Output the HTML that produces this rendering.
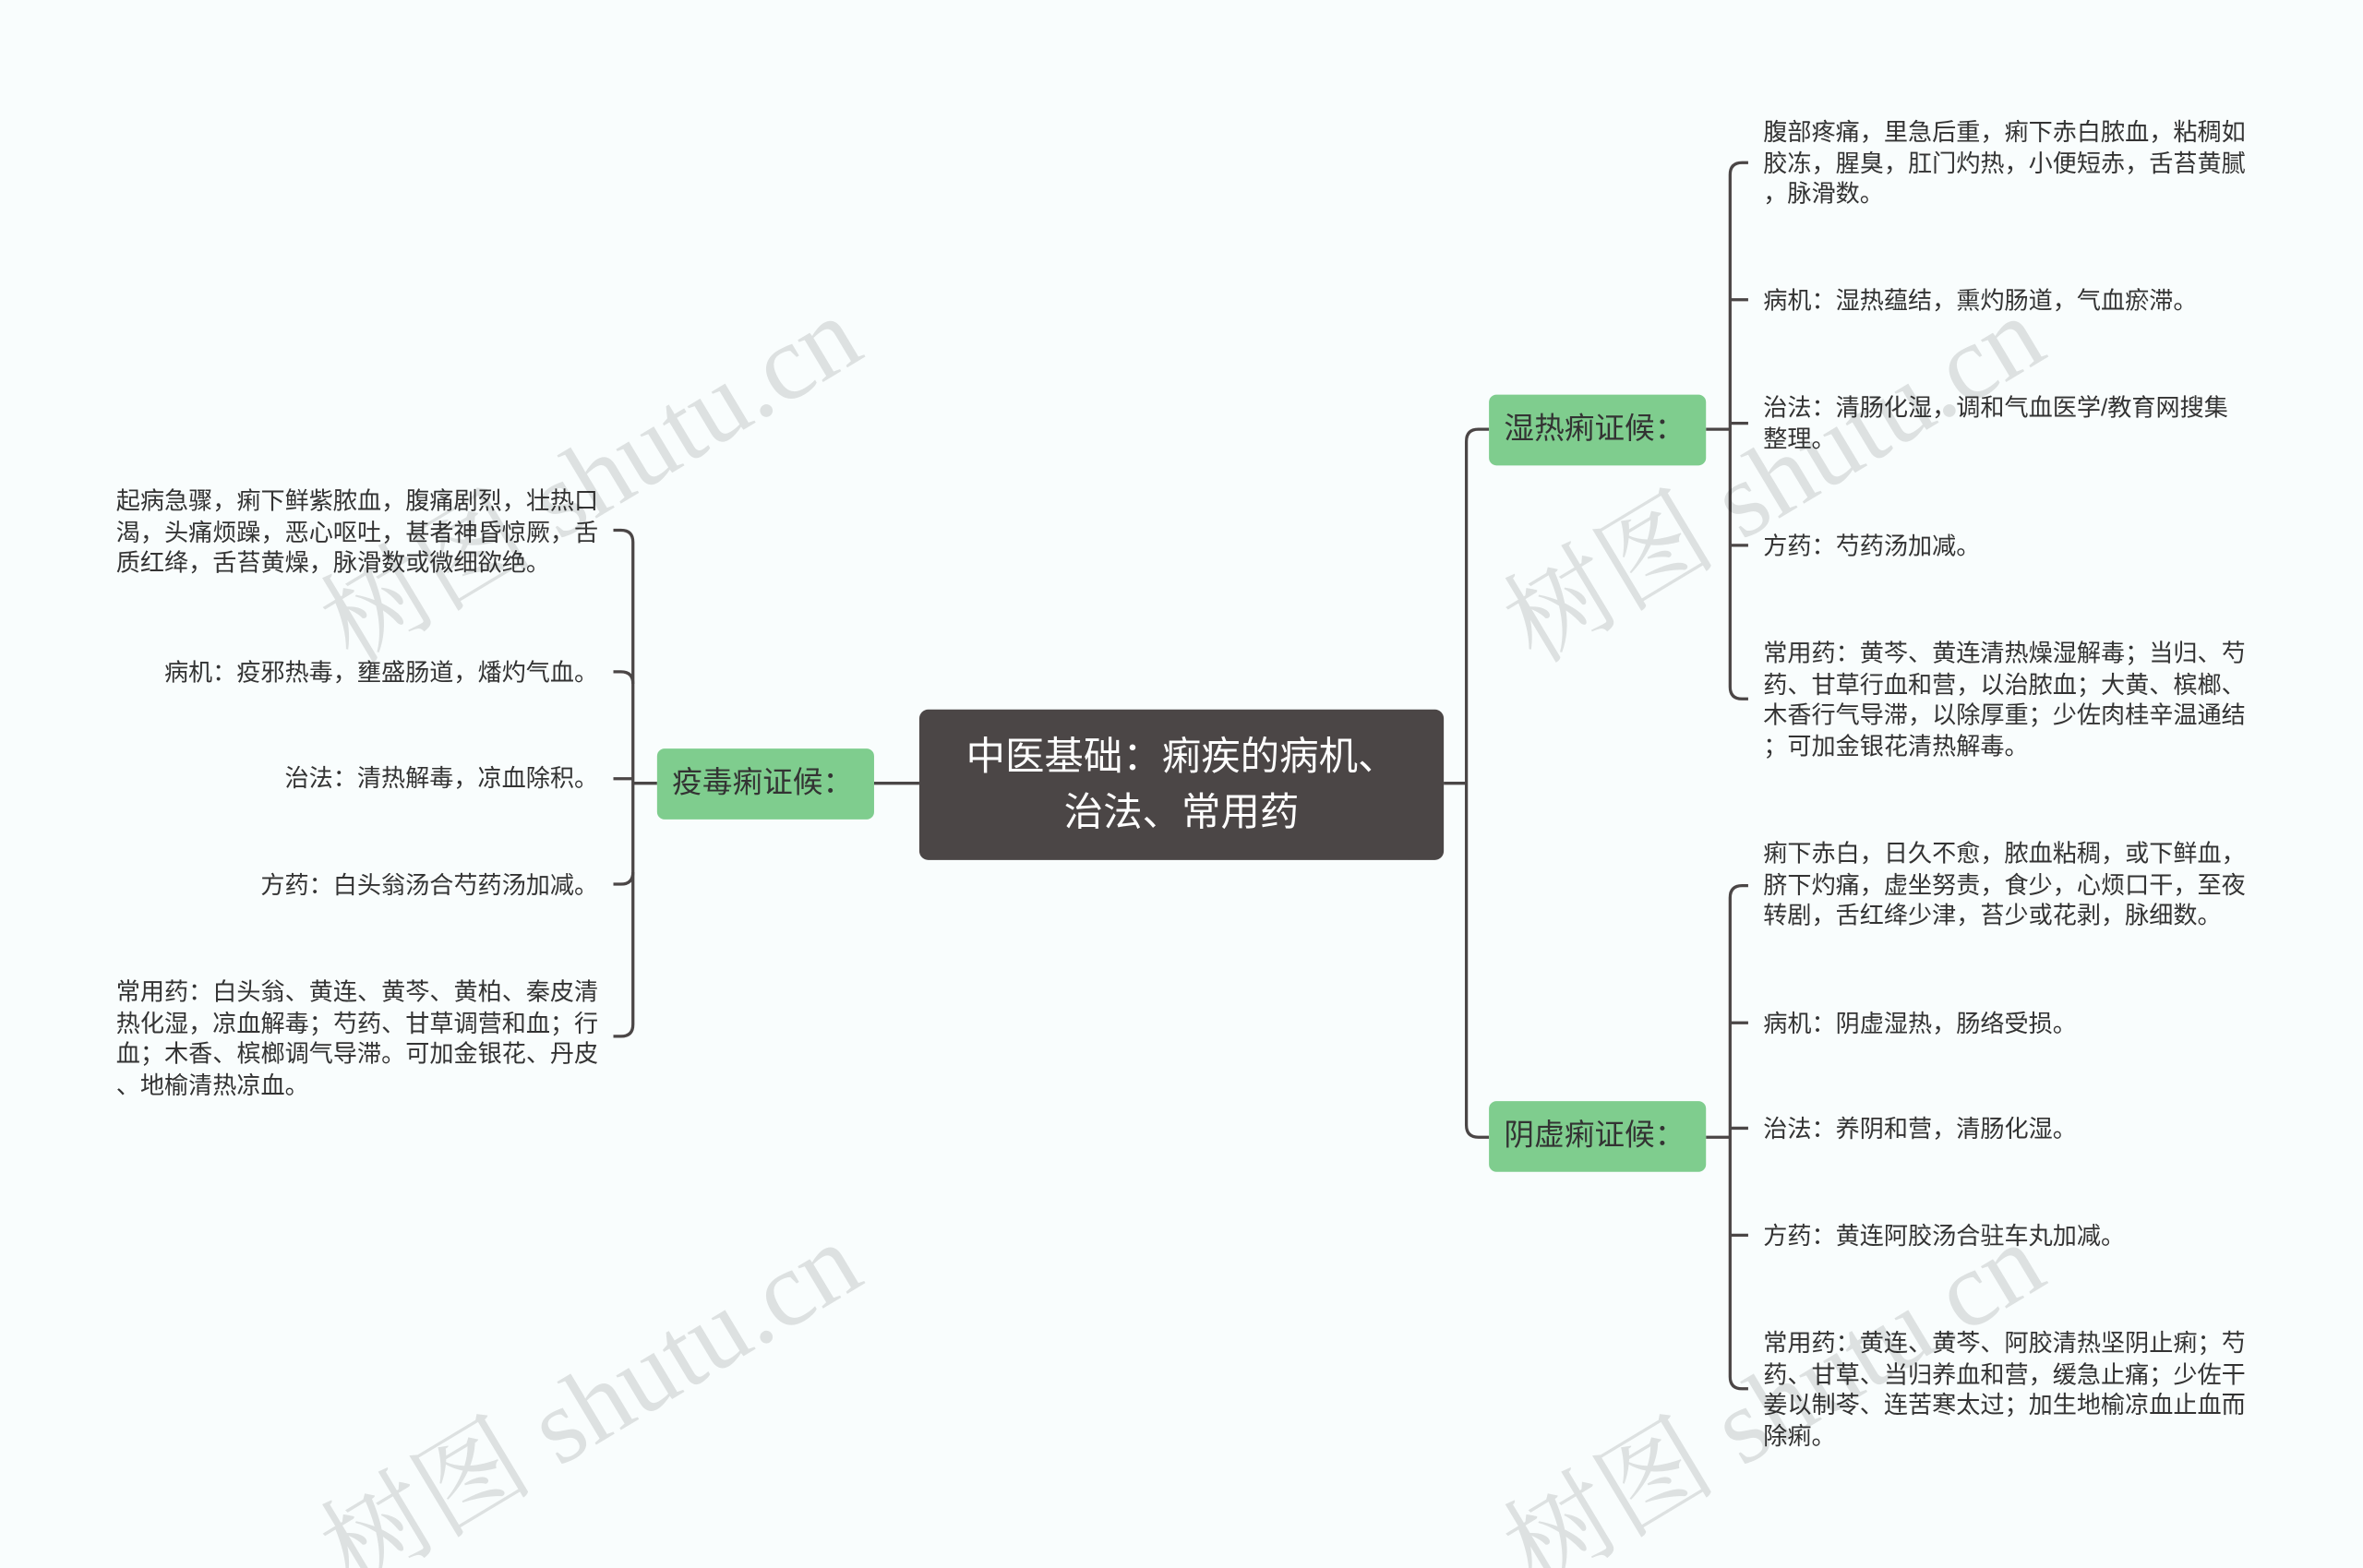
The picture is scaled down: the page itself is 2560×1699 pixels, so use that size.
<!DOCTYPE html>
<html><head><meta charset="utf-8"><style>
html,body{margin:0;padding:0;background:#f9fdfd;overflow:hidden;}
#wrap{position:relative;width:2560px;height:1699px;overflow:hidden;background:#f9fdfd;}
#c{position:absolute;left:0;top:0;width:1568px;height:1041px;overflow:hidden;transform:scale(1.6327,1.6321);transform-origin:0 0;font-family:"Liberation Sans","Noto Sans CJK SC",sans-serif;}
.t{position:absolute;font-size:16px;line-height:20.5px;color:#333;white-space:nowrap;margin-top:2px;}
.l{text-align:right;}
.n{position:absolute;background:#7fcd8e;border-radius:5px;color:#333;font-size:20px;line-height:47px;padding-left:10px;box-sizing:border-box;}
.wm{position:absolute;font-family:"Liberation Serif","Noto Serif CJK SC",serif;font-size:71px;color:rgba(0,0,0,0.11);transform:rotate(-31deg);white-space:nowrap;transform-origin:0 0;}
</style></head><body><div id="wrap"><div id="c">
<svg width="1560" height="1041" style="position:absolute;left:0;top:0" fill="none" stroke="#4b4646" stroke-width="2">
<path d="M580 520H610"/>
<path d="M958 520H973"/>
<path d="M988 285H981Q973 285 973 293V747Q973 755 981 755H988"/>
<path d="M1132 285H1148"/>
<path d="M1160 108H1156Q1148 108 1148 116V456Q1148 464 1156 464H1160"/>
<path d="M1148 199H1160M1148 281H1160M1148 362H1160"/>
<path d="M1132 755H1148"/>
<path d="M1160 588H1156Q1148 588 1148 596V914Q1148 922 1156 922H1160"/>
<path d="M1148 679H1160M1148 749H1160M1148 820H1160"/>
<path d="M436 520H420"/>
<path d="M407 352H412Q420 352 420 360V680Q420 688 412 688H407"/>
<path d="M407 446H412Q420 446 420 454M407 517H420M407 587H412Q420 587 420 579"/>
</svg>
<div style="position:absolute;left:610px;top:471px;width:348px;height:100px;background:#4b4646;border-radius:6px;color:#fff;font-size:26px;line-height:37px;text-align:center;box-sizing:border-box;padding-top:13px;">中医基础：痢疾的病机、<br>治法、常用药</div>
<div class="n" style="left:436px;top:497px;width:144px;height:47px;">疫毒痢证候：</div>
<div class="n" style="left:988px;top:262px;width:144px;height:47px;">湿热痢证候：</div>
<div class="n" style="left:988px;top:731px;width:144px;height:47px;">阴虚痢证候：</div>

<div class="t" style="left:77px;top:322px;">起病急骤，痢下鲜紫脓血，腹痛剧烈，壮热口<br>渴，头痛烦躁，恶心呕吐，甚者神昏惊厥，舌<br>质红绛，舌苔黄燥，脉滑数或微细欲绝。</div>
<div class="t l" style="right:1171px;top:436px;">病机：疫邪热毒，壅盛肠道，燔灼气血。</div>
<div class="t l" style="right:1171px;top:506px;">治法：清热解毒，凉血除积。</div>
<div class="t l" style="right:1171px;top:577px;">方药：白头翁汤合芍药汤加减。</div>
<div class="t" style="left:77px;top:648px;">常用药：白头翁、黄连、黄芩、黄柏、秦皮清<br>热化湿，凉血解毒；芍药、甘草调营和血；行<br>血；木香、槟榔调气导滞。可加金银花、丹皮<br>、地榆清热凉血。</div>

<div class="t" style="left:1170px;top:77px;">腹部疼痛，里急后重，痢下赤白脓血，粘稠如<br>胶冻，腥臭，肛门灼热，小便短赤，舌苔黄腻<br>，脉滑数。</div>
<div class="t" style="left:1170px;top:189px;">病机：湿热蕴结，熏灼肠道，气血瘀滞。</div>
<div class="t" style="left:1170px;top:260px;">治法：清肠化湿，调和气血医学/教育网搜集<br>整理。</div>
<div class="t" style="left:1170px;top:352px;">方药：芍药汤加减。</div>
<div class="t" style="left:1170px;top:423px;">常用药：黄芩、黄连清热燥湿解毒；当归、芍<br>药、甘草行血和营，以治脓血；大黄、槟榔、<br>木香行气导滞，以除厚重；少佐肉桂辛温通结<br>；可加金银花清热解毒。</div>

<div class="t" style="left:1170px;top:556px;">痢下赤白，日久不愈，脓血粘稠，或下鲜血，<br>脐下灼痛，虚坐努责，食少，心烦口干，至夜<br>转剧，舌红绛少津，苔少或花剥，脉细数。</div>
<div class="t" style="left:1170px;top:669px;">病机：阴虚湿热，肠络受损。</div>
<div class="t" style="left:1170px;top:739px;">治法：养阴和营，清肠化湿。</div>
<div class="t" style="left:1170px;top:810px;">方药：黄连阿胶汤合驻车丸加减。</div>
<div class="t" style="left:1170px;top:881px;">常用药：黄连、黄芩、阿胶清热坚阴止痢；芍<br>药、甘草、当归养血和营，缓急止痛；少佐干<br>姜以制苓、连苦寒太过；加生地榆凉血止血而<br>除痢。</div>

<div class="wm" style="left:192px;top:372px;">树图 shutu.cn</div>
<div class="wm" style="left:192px;top:987px;">树图 shutu.cn</div>
<div class="wm" style="left:977px;top:372px;">树图 shutu.cn</div>
<div class="wm" style="left:977px;top:987px;">树图 shutu.cn</div>
</div></div></body></html>
